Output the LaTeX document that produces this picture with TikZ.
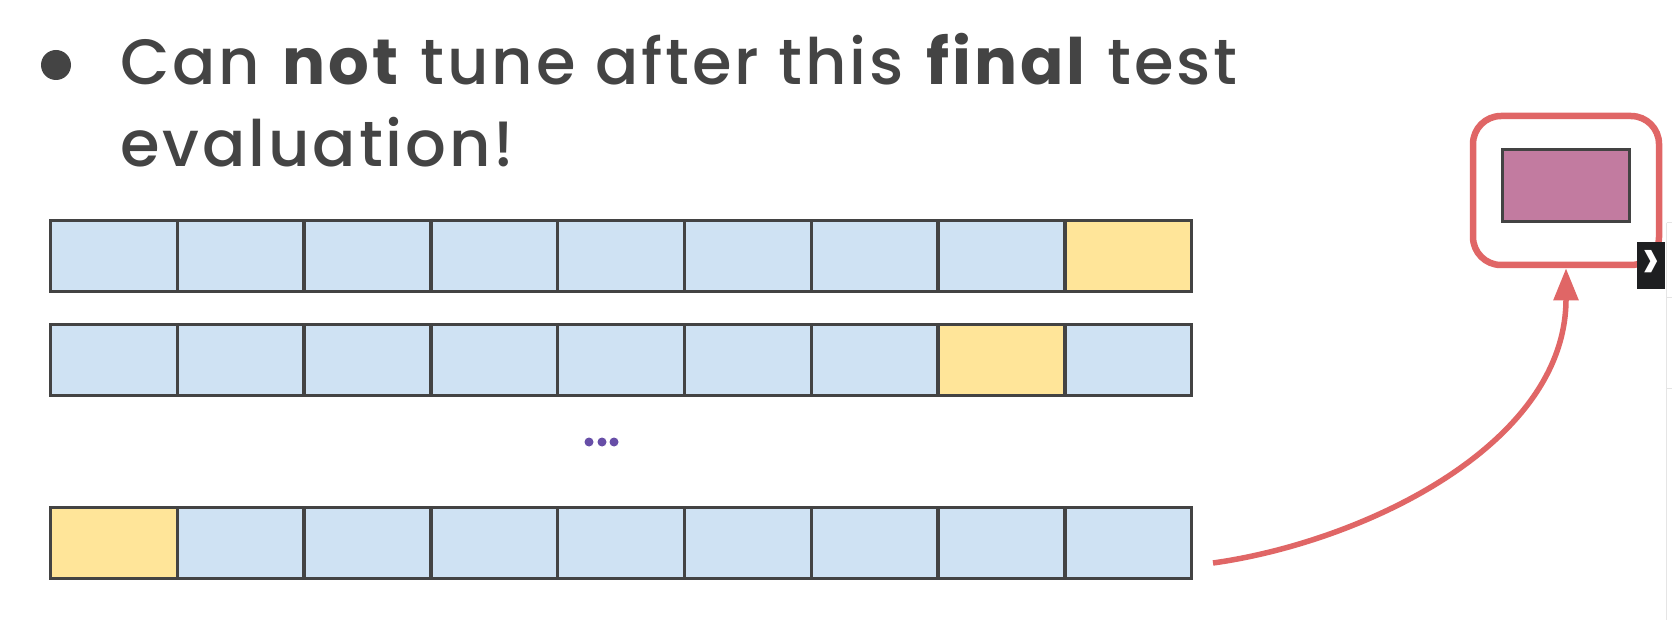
\documentclass[tikz,border=0pt]{standalone}
\usepackage{fontspec}
\setmainfont{Poppins}[UprightFont=* Medium, BoldFont=* Bold, Ligatures=CommonOff, LetterSpace=4.5]
\usetikzlibrary{positioning,arrows.meta}
\definecolor{cellblue}{HTML}{CFE2F3}
\definecolor{cellyellow}{HTML}{FFE599}
\definecolor{cellline}{HTML}{434343}
\definecolor{modelpink}{HTML}{C27BA0}
\definecolor{arrowred}{HTML}{E06666}
\definecolor{dotpurple}{HTML}{674EA7}
\definecolor{textgray}{HTML}{444444}
\definecolor{tabblack}{HTML}{1E1F21}

\begin{document}
\begin{tikzpicture}[x=1pt, y=-1pt,
  every node/.style={text=textgray},
  cell/.style={draw=cellline, line width=3.5pt, fill=cellblue, minimum width=126.8pt, minimum height=71pt, inner sep=0pt},
  testcell/.style={cell, fill=cellyellow},
  bigtext/.style={anchor=base west, inner sep=0pt, font=\fontsize{64}{70}\selectfont},
  dot/.style={circle, fill=dotpurple, minimum size=9pt, inner sep=0pt}
]
\fill[white] (0,0) rectangle (1672,620);
\useasboundingbox (0,0) rectangle (1672,620);

% bullet point
\node[circle, fill=textgray, minimum size=30pt, inner sep=0pt] (bullet) at (56,65) {};
\node[bigtext] (line1) at (120,85) {Can \textbf{not} tune after this \textbf{final} test};
\node[bigtext] (line2) at (120,167) {evaluation!};

% folds, one row per split
\def\cw{126.8}
\foreach \r/\y/\t in {1/256/9, 2/360/8, 3/543/1} {
  \foreach \c in {1,...,9} {
    \ifnum\c=\t \def\cellstyle{testcell}\else\def\cellstyle{cell}\fi
    \node[\cellstyle] (r\r c\c) at ({113.9+\cw*(\c-1)},\y) {};
  }
}

\foreach \i/\x in {1/589, 2/602, 3/614}
  \node[dot] (d\i) at (\x,442) {};

% final model
\node[draw=arrowred, line width=6.5pt, rounded corners=28pt, minimum width=186pt, minimum height=149pt] (finalbox) at (1566,190.5) {};
\node[draw=cellline, line width=3.5pt, fill=modelpink, minimum width=127pt, minimum height=72pt, inner sep=0pt] (model) at (1566,185.5) {};

\coordinate (arrowstart) at (1213,563);
\draw[arrowred, line width=5.5pt, -{Triangle[length=32pt, width=24pt]}] (arrowstart) .. controls (1363,542) and (1566,445) .. (finalbox.south);

% slide navigator tab
\draw[gray!20, line width=1pt] (1666.5,223) -- (1666.5,620);
\draw[gray!20, line width=1pt] (1666.5,223) -- (1672,223) (1666.5,297) -- (1672,297) (1666.5,388) -- (1672,388);
\node[fill=tabblack, minimum width=28pt, minimum height=47pt, inner sep=0pt, text=white, font=\fontsize{64}{64}\selectfont] (navtab) at (1651,265.5) {};
\node[text=white, inner sep=0pt, font=\fontsize{64}{64}\selectfont] (chevron) at (navtab.center) {›};
\end{tikzpicture}
\end{document}
